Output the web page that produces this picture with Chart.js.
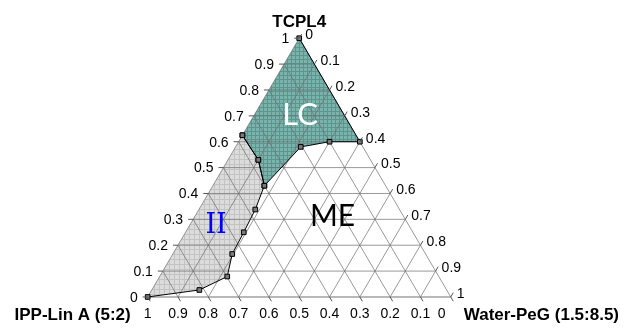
<!DOCTYPE html>
<html><head><meta charset="utf-8">
<script src="https://cdn.jsdelivr.net/npm/chart.js@4.4.1/dist/chart.umd.min.js"></script>
<style>html,body{margin:0;padding:0;background:#fff;}#wrap{width:626px;height:333px;}</style>
</head><body><div id="wrap"><canvas id="c" width="626" height="333"></canvas></div>
<script>
// ---- data ----
const axisTicks = [0, 0.1, 0.2, 0.3, 0.4, 0.5, 0.6, 0.7, 0.8, 0.9, 1];
const tickLabels = ['0', '0.1', '0.2', '0.3', '0.4', '0.5', '0.6', '0.7', '0.8', '0.9', '1'];
// LC phase boundary (fractions of TCPL4 and Water-PeG; IPP-Lin A = remainder)
const lcTCPL4 = [1, 0.6, 0.6, 0.58, 0.43, 0.53, 0.625];
const lcWater = [0, 0.4, 0.3, 0.215, 0.17, 0.1, 0];
// II phase boundary
const iiTCPL4 = [0.625, 0.53, 0.43, 0.338, 0.25, 0.166, 0.079, 0.027, 0];
const iiWater = [0, 0.1, 0.17, 0.186, 0.192, 0.196, 0.223, 0.157, 0];
const cornerNames = ['TCPL4', 'IPP-Lin A (5:2)', 'Water-PeG (1.5:8.5)'];
const regionNames = ['LC', 'II', 'ME'];

const S3 = Math.sqrt(3) / 2;
function tp(c, b) { return { x: b + c / 2, y: c * S3 }; }

function makePattern(bg, line, step) {
  const cv = document.createElement('canvas');
  cv.width = step; cv.height = step;
  const g = cv.getContext('2d');
  g.fillStyle = bg; g.fillRect(0, 0, step, step);
  g.fillStyle = line; g.fillRect(0, step - 1, step, 1); g.fillRect(step - 1, 0, 1, step);
  return g.createPattern(cv, 'repeat');
}
const tealPat = makePattern('#7ab2ac', '#5c948e', 4);
const grayPat = makePattern('#dcdcdc', '#c3c3c3', 5);

const lcPts = lcTCPL4.map((c, i) => tp(c, lcWater[i]));
const iiPts = iiTCPL4.map((c, i) => tp(c, iiWater[i]));

const datasets = [];
// fills
datasets.push({ data: lcPts, polyFill: tealPat, showLine: false, pointRadius: 0, order: 5 });
datasets.push({ data: iiPts, polyFill: grayPat, showLine: false, pointRadius: 0, order: 5 });
// grid lines
const gridColor = 'rgba(110,110,110,0.7)';
function addLine(p1, p2, color, w) {
  datasets.push({ data: [p1, p2], showLine: true, borderColor: color, borderWidth: w, pointRadius: 0, fill: false, order: 3 });
}
axisTicks.forEach(v => {
  if (v <= 0 || v >= 1) return;
  addLine(tp(v, 0), tp(v, 1 - v), gridColor, 1);      // const TCPL4
  addLine(tp(0, v), tp(1 - v, v), gridColor, 1);      // const Water
  addLine(tp(0, 1 - v), tp(1 - v, 0), gridColor, 1);  // const IPP
});
// outline
addLine(tp(0, 0), tp(1, 0), gridColor, 1);
addLine(tp(1, 0), tp(0, 1), gridColor, 1);
addLine(tp(0, 0), tp(0, 1), 'rgba(150,150,150,0.9)', 1.5);
// boundaries
const curveStyle = { showLine: true, borderColor: '#000', borderWidth: 1, pointStyle: 'rect', pointRadius: 3.3,
  pointBackgroundColor: '#7a7a7a', pointBorderColor: '#000', pointBorderWidth: 1, fill: false, order: 1 };
datasets.push(Object.assign({ data: lcPts }, curveStyle));
datasets.push(Object.assign({ data: iiPts }, curveStyle));

const polyPlugin = {
  id: 'poly',
  beforeDatasetsDraw(chart) {
    const ctx = chart.ctx;
    chart.data.datasets.forEach((ds, i) => {
      if (!ds.polyFill) return;
      const pts = chart.getDatasetMeta(i).data;
      ctx.save();
      ctx.beginPath();
      pts.forEach((p, k) => { if (k === 0) ctx.moveTo(p.x, p.y); else ctx.lineTo(p.x, p.y); });
      ctx.closePath();
      ctx.fillStyle = ds.polyFill;
      ctx.fill();
      ctx.restore();
    });
  },
  afterDatasetsDraw(chart) {
    const ctx = chart.ctx, xs = chart.scales.x, ys = chart.scales.y;
    const P = (p) => ({ x: xs.getPixelForValue(p.x), y: ys.getPixelForValue(p.y) });
    ctx.save();
    ctx.strokeStyle = '#555'; ctx.lineWidth = 1;
    ctx.fillStyle = '#000';
    ctx.font = '14px "Liberation Sans", Arial, sans-serif';
    axisTicks.forEach((v, i) => {
      // left axis: TCPL4
      let e = P(tp(v, 0));
      ctx.beginPath(); ctx.moveTo(e.x - 5, e.y); ctx.lineTo(e.x, e.y); ctx.stroke();
      ctx.textAlign = 'right'; ctx.textBaseline = 'middle';
      ctx.fillText(tickLabels[i], e.x - 10, e.y + 1);
      // right axis: Water-PeG
      e = P(tp(1 - v, v));
      ctx.beginPath(); ctx.moveTo(e.x, e.y); ctx.lineTo(e.x + 2.5, e.y - 4.3); ctx.stroke();
      ctx.textAlign = 'left';
      ctx.fillText(tickLabels[i], e.x + 6, e.y - 3);
      // bottom axis: IPP-Lin A
      e = P(tp(0, 1 - v));
      ctx.beginPath(); ctx.moveTo(e.x, e.y); ctx.lineTo(e.x + 2.5, e.y + 4.3); ctx.stroke();
      ctx.textAlign = 'center';
      ctx.fillText(tickLabels[i], e.x - (v === 0 ? 9 : 0), e.y + 17);
    });
    // corner names
    ctx.font = 'bold 17px "Liberation Sans", Arial, sans-serif';
    let t = P(tp(1, 0));
    ctx.textAlign = 'center'; ctx.textBaseline = 'middle';
    ctx.fillText(cornerNames[0], t.x, t.y - 16);
    t = P(tp(0, 0));
    ctx.textAlign = 'right';
    ctx.fillText(cornerNames[1], t.x - 17, t.y + 18);
    t = P(tp(0, 1));
    ctx.textAlign = 'left';
    ctx.fillText(cornerNames[2], t.x + 13, t.y + 18);
    // region names
    ctx.textAlign = 'center'; ctx.textBaseline = 'middle';
    ctx.font = '31px Lato, "Open Sans", sans-serif';
    ctx.fillStyle = '#fff';
    t = P({ x: 0.503, y: 0.609 }); ctx.fillText(regionNames[0], t.x, t.y);
    ctx.fillStyle = '#0000ff';
    ctx.font = '27px "DejaVu Serif", serif';
    t = P({ x: 0.2256, y: 0.2386 }); ctx.fillText(regionNames[1], t.x, t.y);
    ctx.fillStyle = '#000';
    ctx.font = '30px Lato, "Open Sans", sans-serif';
    t = P({ x: 0.610, y: 0.2695 }); ctx.fillText(regionNames[2], t.x, t.y);
    ctx.restore();
  }
};

new Chart(document.getElementById('c'), {
  type: 'scatter',
  data: { datasets },
  options: {
    responsive: false, animation: false, devicePixelRatio: 1,
    layout: { padding: 0 },
    plugins: { legend: { display: false }, tooltip: { enabled: false }, title: { display: false } },
    scales: {
      x: { type: 'linear', display: false, min: -145 / 308, max: 481 / 308 },
      y: { type: 'linear', display: false, min: -32 / 308, max: 301 / 308 }
    }
  },
  plugins: [polyPlugin]
});
</script></body></html>
